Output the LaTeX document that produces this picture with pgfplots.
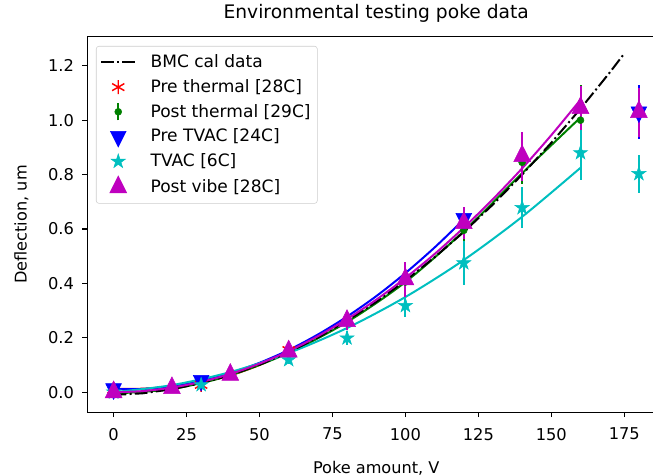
\documentclass[border=0pt]{standalone}
\usepackage{pgfplots}
\pgfplotsset{compat=1.18}
\usepackage{fontspec}
\setmainfont{DejaVu Sans}

\definecolor{mplred}{rgb}{1,0,0}
\definecolor{mplgreen}{rgb}{0,0.5,0}
\definecolor{mplblue}{rgb}{0,0,1}
\definecolor{mplcyan}{rgb}{0,0.75,0.75}
\definecolor{mplmag}{rgb}{0.75,0,0.75}

% filled five point star, like matplotlib '*'
\pgfdeclareplotmark{fstar}{%
  \pgfpathmoveto{\pgfpointpolar{90}{\pgfplotmarksize}}%
  \pgfpathlineto{\pgfpointpolar{126}{0.382\pgfplotmarksize}}%
  \pgfpathlineto{\pgfpointpolar{162}{\pgfplotmarksize}}%
  \pgfpathlineto{\pgfpointpolar{198}{0.382\pgfplotmarksize}}%
  \pgfpathlineto{\pgfpointpolar{234}{\pgfplotmarksize}}%
  \pgfpathlineto{\pgfpointpolar{270}{0.382\pgfplotmarksize}}%
  \pgfpathlineto{\pgfpointpolar{306}{\pgfplotmarksize}}%
  \pgfpathlineto{\pgfpointpolar{342}{0.382\pgfplotmarksize}}%
  \pgfpathlineto{\pgfpointpolar{18}{\pgfplotmarksize}}%
  \pgfpathlineto{\pgfpointpolar{54}{0.382\pgfplotmarksize}}%
  \pgfpathclose
  \pgfusepathqfillstroke
}

\pgfplotsset{
  lineleg/.style={legend image code/.code={\path[draw=none, fill=none] (0pt,0pt) rectangle (35pt,0pt);
    \draw[##1] (0pt,0pt) -- (25.5pt,0pt);}},
  markleg/.style={legend image code/.code={\path[draw=none, fill=none] (0pt,0pt) rectangle (35pt,0pt);
    \draw[##1] plot coordinates {(12.75pt,0pt)};}},
  greenleg/.style={legend image code/.code={\path[draw=none, fill=none] (0pt,0pt) rectangle (35pt,0pt);
    \draw[mplgreen, line width=1.5pt] (12.75pt,-6.5pt) -- (12.75pt,6.5pt);
    \draw[##1] plot coordinates {(12.75pt,0pt)};}},
  ebar/.style={error bars/y dir=both, error bars/y explicit, error bars/error mark=none,
    error bars/error bar style={line width=1.5pt}},
}

\begin{document}
\begin{tikzpicture}
\useasboundingbox (-65.5pt,-47.8pt) rectangle (424.3pt,309.2pt);
\clip (-65.5pt,-47.8pt) rectangle (424.3pt,309.2pt);
\begin{axis}[
    at={(0pt,0pt)}, anchor=south west,
    scale only axis,
    width=433.4pt, height=281.7pt,
    xmin=-9, xmax=189,
    ymin=-0.0736, ymax=1.307,
    xtick={0,25,50,75,100,125,150,175},
    ytick={0,0.2,0.4,0.6,0.8,1.0,1.2},
    /pgf/number format/assume math mode=true,
    yticklabel style={/pgf/number format/fixed, /pgf/number format/fixed zerofill,
      /pgf/number format/precision=1, xshift=-2.7pt},
    xticklabel style={yshift=-4.5pt},
    tick label style={font=\fontsize{12.2}{14}\selectfont},
    tick align=outside, xtick pos=left, ytick pos=left,
    major tick length=3.75pt,
    tick style={black, line width=0.8pt},
    axis line style={line width=0.8pt},
    title={Environmental testing poke data},
    title style={font=\fontsize{14}{16}\selectfont,
      at={(axis description cs:0.5,1)}, anchor=base, yshift=7.5pt},
    xlabel={Poke amount, V},
    ylabel={Deflection, um},
    label style={font=\fontsize{12.1}{14}\selectfont},
    xlabel style={at={(axis description cs:0.5,-0.1624)}, anchor=base},
    ylabel style={at={(axis description cs:-0.1049,0.5)}, anchor=base},
    legend cell align=left,
    legend style={at={(axis description cs:0,1)}, anchor=north west,
      xshift=6.5pt, yshift=-7pt,
      draw=black!20, rounded corners=2pt, fill=white,
      font=\fontsize{12.8}{15}\selectfont,
      row sep=3.3pt, inner xsep=3pt, inner ysep=4.5pt},
  ]

% fitted curves
\addplot[mplred, line width=1.5pt, smooth, forget plot] coordinates {
  (0,0.012)(10,0.013)(20,0.021)(30,0.036)(40,0.062)(50,0.100)(60,0.150)};
\addplot[mplgreen, line width=1.5pt, smooth, forget plot] coordinates {
  (0,-0.005)(20,0.012)(40,0.062)(60,0.145)(80,0.258)(100,0.405)(120,0.592)(140,0.805)(160,1.010)};
\addplot[mplblue, line width=1.5pt, smooth, forget plot] coordinates {
  (0,0.012)(10,0.012)(20,0.022)(30,0.041)(40,0.070)(50,0.108)(60,0.155)
  (70,0.212)(80,0.278)(90,0.353)(100,0.438)(110,0.532)(120,0.635)};
\addplot[mplcyan, line width=1.5pt, smooth, forget plot] coordinates {
  (0,0.0)(20,0.026)(40,0.074)(60,0.144)(80,0.236)(100,0.350)(120,0.486)(140,0.645)(160,0.825)};

% BMC calibration
\addplot[black, line width=1.5pt, dash pattern=on 9.6pt off 2.4pt on 1.5pt off 2.4pt, lineleg] coordinates {
  (0,-0.010)(10,-0.004)(20,0.011)(30,0.033)(40,0.063)(50,0.101)(60,0.147)(70,0.201)
  (80,0.263)(90,0.332)(100,0.410)(110,0.496)(120,0.589)(130,0.690)(140,0.800)
  (150,0.917)(160,1.042)(170,1.175)(175,1.245)};
\addlegendentry{BMC cal data}

\addplot[mplmag, line width=1.5pt, smooth, forget plot] coordinates {
  (0,0.0)(10,0.004)(20,0.017)(30,0.038)(40,0.067)(50,0.105)(60,0.151)(70,0.206)
  (80,0.269)(90,0.340)(100,0.420)(110,0.508)(120,0.605)(130,0.710)(140,0.823)
  (150,0.945)(160,1.075)};

% measurements
\addplot[mplred, only marks, mark=asterisk, mark size=5.3pt,
  mark options={line width=1.1pt}, markleg, ebar] coordinates {
  (0,0.010) +- (0,0.005)
  (30,0.027) +- (0,0.005)
  (60,0.155) +- (0,0.010)};
\addlegendentry{Pre thermal [28C]}

\addplot[mplgreen, only marks, mark=*, mark size=2.6pt, ebar, greenleg] coordinates {
  (0,-0.005) +- (0,0.005)
  (20,0.012) +- (0,0.005)
  (40,0.060) +- (0,0.008)
  (60,0.145) +- (0,0.010)
  (80,0.255) +- (0,0.015)
  (100,0.405) +- (0,0.030)
  (120,0.595) +- (0,0.060)
  (140,0.845) +- (0,0.080)
  (160,1.000) +- (0,0.130)
  (180,1.020) +- (0,0.090)};
\addlegendentry{Post thermal [29C]}

\addplot[mplblue, only marks, mark=triangle*, mark size=6.8pt,
  mark options={rotate=180, yscale=1.15}, markleg, ebar] coordinates {
  (0,0.012) +- (0,0.005)
  (30,0.043) +- (0,0.008)
  (120,0.638) +- (0,0.030)
  (180,1.030) +- (0,0.100)};
\addlegendentry{Pre TVAC [24C]}

\addplot[mplcyan, only marks, mark=fstar, mark size=5.6pt, markleg, ebar] coordinates {
  (0,0.000) +- (0,0.005)
  (30,0.027) +- (0,0.010)
  (60,0.119) +- (0,0.015)
  (80,0.199) +- (0,0.025)
  (100,0.318) +- (0,0.040)
  (120,0.475) +- (0,0.080)
  (140,0.678) +- (0,0.075)
  (160,0.880) +- (0,0.100)
  (180,0.803) +- (0,0.070)};
\addlegendentry{TVAC [6C]}

\addplot[mplmag, only marks, mark=triangle*, mark size=7.3pt,
  mark options={yscale=1.15}, markleg, ebar] coordinates {
  (0,0.000) +- (0,0.010)
  (20,0.015) +- (0,0.010)
  (40,0.064) +- (0,0.010)
  (60,0.150) +- (0,0.020)
  (80,0.262) +- (0,0.035)
  (100,0.415) +- (0,0.065)
  (120,0.622) +- (0,0.060)
  (140,0.868) +- (0,0.090)
  (160,1.045) +- (0,0.080)
  (180,1.030) +- (0,0.090)};
\addlegendentry{Post vibe [28C]}
\end{axis}
\end{tikzpicture}
\end{document}
